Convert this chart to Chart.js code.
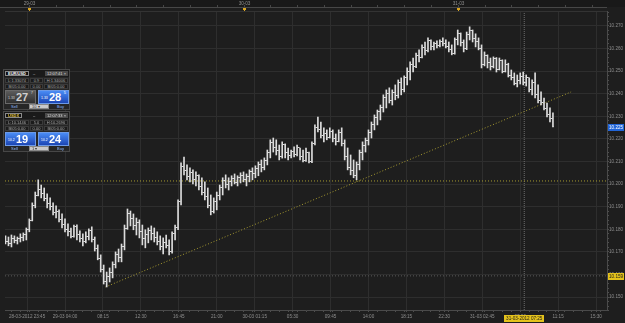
<!DOCTYPE html>
<html>
<head>
<meta charset="utf-8">
<script src="https://cdn.jsdelivr.net/npm/chart.js@4.4.1/dist/chart.umd.min.js"></script>
<style>
html, body { margin: 0; padding: 0; background: #1e1e1e; overflow: hidden; }
#wrap { position: relative; width: 625px; height: 323px; }
canvas { display: block; }
.panel { position: absolute; left: 3px; width: 67px; height: 41px; box-sizing: border-box;
  background: #262626; border: 1px solid #474747; font-family: "Liberation Sans", sans-serif;
  font-size: 4px; line-height: 5px; color: #a9a9a9; }
.hdr { position: absolute; left: 0; top: 0; width: 65px; height: 7px; background: #1a1a1a; }
.sym { position: absolute; left: 1px; top: 1px; height: 5px; padding: 0 2px; border: 1px solid #8a8a8a;
  box-sizing: border-box; line-height: 4px; color: #fff; font-weight: bold; background: #101010; }
.dash { position: absolute; left: 29px; top: 1px; color: #ddd; }
.clk { position: absolute; right: 1px; top: 1px; height: 5px; padding: 0 2px; background: #4a4a4a; color: #ddd; }
.row { position: absolute; left: 1px; width: 63px; height: 5px; }
.row span { position: absolute; top: 0; height: 5px; box-sizing: border-box; background: #1b1b1b;
  border: 1px solid #3a3a3a; line-height: 3px; text-align: center; }
.c1 { left: 0; width: 24px; } .c2 { left: 25px; width: 13px; } .c3 { left: 39px; width: 24px; }
.btn { position: absolute; top: 20px; width: 31px; height: 14px; box-sizing: border-box; color: #fff;
  background: linear-gradient(#4a8cf5, #1c46b5); border: 1px solid #6d9ae6; }
.btn.grey { background: linear-gradient(#5c5c5c, #303030); border-color: #6a6a6a; color: #d0d0d0; }
.btn i { position: absolute; left: 2px; top: 5px; font-style: normal; font-size: 3.5px; }
.btn b { position: absolute; left: 10px; top: 1px; font-size: 11px; line-height: 11px; }
.btn sup { position: absolute; right: 2px; top: 0; font-size: 4px; line-height: 4px; }
.lab { position: absolute; top: 34px; color: #8fb8ff; }
.dd { position: absolute; left: 25px; top: 34px; width: 20px; height: 5px; box-sizing: border-box;
  background: #c9c9c9; color: #333; border: 1px solid #888; line-height: 3px; padding-left: 2px; }
</style>
</head>
<body>
<div id="wrap">
<canvas id="chart" width="625" height="323"></canvas>

<div class="panel" style="top:69px">
  <div class="hdr"><span class="sym">EUR/USD</span><span class="dash">–</span><span class="clk">12:07:41 ×</span></div>
  <div class="row" style="top:8px"><span class="c1">L:1.33074</span><span class="c2">0.9</span><span class="c3">H:1.34006</span></div>
  <div class="row" style="top:14px"><span class="c1">B/05:0.00</span><span class="c2">0.00</span><span class="c3">B/05:0.00</span></div>
  <div class="btn grey" style="left:1px"><i>1.33</i><b>27</b><sup>7</sup></div>
  <div class="btn" style="left:34px"><i>1.33</i><b>28</b><sup>5</sup></div>
  <div class="lab" style="left:7px">Sell</div>
  <div class="dd">10 ▾</div>
  <div class="lab" style="left:53px">Buy</div>
</div>

<div class="panel" style="top:111px">
  <div class="hdr"><span class="sym" style="color:#e8c33a">USDX</span><span class="dash">–</span><span class="clk">12:07:33 ×</span></div>
  <div class="row" style="top:8px"><span class="c1">L:10.1446</span><span class="c2">5.0</span><span class="c3">H:10.2696</span></div>
  <div class="row" style="top:14px"><span class="c1">B/05:0.00</span><span class="c2">0.00</span><span class="c3">B/05:0.00</span></div>
  <div class="btn" style="left:1px"><i>10.2</i><b>19</b></div>
  <div class="btn" style="left:34px"><i>10.2</i><b>24</b></div>
  <div class="lab" style="left:7px">Sell</div>
  <div class="dd">1 ▾</div>
  <div class="lab" style="left:53px">Buy</div>
</div>
</div>

<script>
// 20-minute bars starting 28-03-2012 21:00 (x axis is in hours from that time)
const barMinutes = 20;

const opens = [
    10.1762, 10.1753, 10.1744, 10.1738, 10.1760, 10.1749, 10.1758, 10.1765, 10.1778, 10.1800,
    10.1840, 10.1905, 10.1950, 10.1975, 10.1960, 10.1935, 10.1915, 10.1900, 10.1875, 10.1880,
    10.1845, 10.1820, 10.1800, 10.1790, 10.1770, 10.1812, 10.1775, 10.1760, 10.1748, 10.1770,
    10.1795, 10.1755, 10.1715, 10.1672, 10.1620, 10.1570, 10.1590, 10.1610, 10.1645, 10.1690,
    10.1675, 10.1725, 10.1805, 10.1870, 10.1850, 10.1815, 10.1830, 10.1790, 10.1760, 10.1775,
    10.1795, 10.1780, 10.1765, 10.1748, 10.1722, 10.1740, 10.1730, 10.1700, 10.1780, 10.1810,
    10.1925, 10.2080, 10.2060, 10.2035, 10.2050, 10.2020, 10.2040, 10.1990, 10.1965, 10.1945,
    10.1905, 10.1880, 10.1925, 10.1950, 10.1985, 10.2015, 10.2000, 10.2010, 10.2025, 10.2005,
    10.2030, 10.2040, 10.2020, 10.2035, 10.2055, 10.2045, 10.2070, 10.2085, 10.2075, 10.2105,
    10.2140, 10.2185, 10.2160, 10.2150, 10.2120, 10.2175, 10.2140, 10.2125, 10.2145, 10.2130,
    10.2160, 10.2120, 10.2105, 10.2140, 10.2100, 10.2180, 10.2250, 10.2240, 10.2215, 10.2225,
    10.2205, 10.2235, 10.2200, 10.2190, 10.2230, 10.2180, 10.2120, 10.2075, 10.2060, 10.2040,
    10.2085, 10.2140, 10.2170, 10.2195, 10.2230, 10.2265, 10.2295, 10.2320, 10.2340, 10.2385,
    10.2400, 10.2370, 10.2405, 10.2390, 10.2450, 10.2420, 10.2470, 10.2500, 10.2530, 10.2520,
    10.2570, 10.2560, 10.2605, 10.2590, 10.2635, 10.2610, 10.2620, 10.2612, 10.2630, 10.2620,
    10.2610, 10.2595, 10.2580, 10.2640, 10.2665, 10.2625, 10.2600, 10.2660, 10.2680, 10.2645,
    10.2630, 10.2600, 10.2530, 10.2570, 10.2540, 10.2520, 10.2555, 10.2505, 10.2545, 10.2500,
    10.2530, 10.2480, 10.2470, 10.2445, 10.2460, 10.2475, 10.2450, 10.2470, 10.2420, 10.2450,
    10.2395, 10.2370, 10.2360, 10.2335, 10.2310, 10.2290
];
const highs = [
    10.1780, 10.1771, 10.1766, 10.1775, 10.1771, 10.1766, 10.1780, 10.1784, 10.1806, 10.1846,
    10.1917, 10.1965, 10.2019, 10.1996, 10.1983, 10.1957, 10.1939, 10.1917, 10.1904, 10.1886,
    10.1868, 10.1846, 10.1824, 10.1806, 10.1819, 10.1820, 10.1793, 10.1780, 10.1789, 10.1802,
    10.1811, 10.1766, 10.1731, 10.1687, 10.1642, 10.1611, 10.1629, 10.1656, 10.1700, 10.1713,
    10.1735, 10.1819, 10.1890, 10.1881, 10.1868, 10.1850, 10.1842, 10.1819, 10.1798, 10.1806,
    10.1815, 10.1806, 10.1789, 10.1771, 10.1762, 10.1775, 10.1753, 10.1789, 10.1819, 10.1930,
    10.2094, 10.2120, 10.2085, 10.2072, 10.2063, 10.2054, 10.2041, 10.2028, 10.2010, 10.1983,
    10.1952, 10.1939, 10.1965, 10.1996, 10.2028, 10.2041, 10.2028, 10.2037, 10.2045, 10.2037,
    10.2050, 10.2054, 10.2045, 10.2063, 10.2072, 10.2081, 10.2098, 10.2107, 10.2116, 10.2151,
    10.2196, 10.2204, 10.2196, 10.2173, 10.2187, 10.2178, 10.2160, 10.2151, 10.2165, 10.2173,
    10.2160, 10.2151, 10.2160, 10.2142, 10.2187, 10.2262, 10.2297, 10.2275, 10.2249, 10.2240,
    10.2249, 10.2240, 10.2222, 10.2240, 10.2249, 10.2196, 10.2160, 10.2129, 10.2107, 10.2098,
    10.2151, 10.2187, 10.2204, 10.2240, 10.2275, 10.2306, 10.2328, 10.2350, 10.2395, 10.2417,
    10.2426, 10.2417, 10.2439, 10.2461, 10.2470, 10.2479, 10.2514, 10.2541, 10.2558, 10.2580,
    10.2594, 10.2616, 10.2629, 10.2647, 10.2638, 10.2629, 10.2634, 10.2638, 10.2647, 10.2638,
    10.2629, 10.2616, 10.2647, 10.2682, 10.2669, 10.2638, 10.2673, 10.2696, 10.2682, 10.2665,
    10.2647, 10.2616, 10.2585, 10.2572, 10.2558, 10.2563, 10.2560, 10.2558, 10.2550, 10.2550,
    10.2535, 10.2505, 10.2492, 10.2483, 10.2492, 10.2496, 10.2483, 10.2470, 10.2461, 10.2492,
    10.2439, 10.2408, 10.2381, 10.2359, 10.2337, 10.2315
];
const lows = [
    10.1744, 10.1735, 10.1727, 10.1722, 10.1740, 10.1735, 10.1744, 10.1749, 10.1753, 10.1789,
    10.1837, 10.1895, 10.1948, 10.1939, 10.1926, 10.1895, 10.1886, 10.1864, 10.1850, 10.1833,
    10.1806, 10.1789, 10.1771, 10.1762, 10.1765, 10.1753, 10.1744, 10.1727, 10.1740, 10.1753,
    10.1744, 10.1704, 10.1665, 10.1611, 10.1558, 10.1545, 10.1567, 10.1585, 10.1629, 10.1656,
    10.1656, 10.1709, 10.1800, 10.1815, 10.1798, 10.1775, 10.1762, 10.1731, 10.1718, 10.1740,
    10.1753, 10.1744, 10.1731, 10.1709, 10.1691, 10.1718, 10.1687, 10.1695, 10.1753, 10.1798,
    10.1908, 10.2041, 10.2019, 10.2010, 10.2001, 10.1992, 10.1974, 10.1952, 10.1930, 10.1895,
    10.1864, 10.1872, 10.1886, 10.1930, 10.1952, 10.1983, 10.1974, 10.1992, 10.2001, 10.1992,
    10.2005, 10.2010, 10.1992, 10.2010, 10.2019, 10.2028, 10.2037, 10.2054, 10.2063, 10.2085,
    10.2116, 10.2142, 10.2129, 10.2107, 10.2115, 10.2116, 10.2107, 10.2116, 10.2120, 10.2125,
    10.2107, 10.2098, 10.2100, 10.2094, 10.2095, 10.2173, 10.2231, 10.2204, 10.2187, 10.2196,
    10.2204, 10.2187, 10.2173, 10.2187, 10.2169, 10.2107, 10.2063, 10.2041, 10.2028, 10.2019,
    10.2063, 10.2107, 10.2142, 10.2173, 10.2204, 10.2240, 10.2262, 10.2284, 10.2319, 10.2337,
    10.2359, 10.2350, 10.2373, 10.2381, 10.2395, 10.2408, 10.2439, 10.2461, 10.2496, 10.2515,
    10.2541, 10.2558, 10.2572, 10.2585, 10.2594, 10.2594, 10.2603, 10.2607, 10.2611, 10.2603,
    10.2585, 10.2572, 10.2575, 10.2616, 10.2611, 10.2585, 10.2595, 10.2638, 10.2629, 10.2607,
    10.2594, 10.2514, 10.2523, 10.2514, 10.2505, 10.2514, 10.2496, 10.2505, 10.2492, 10.2496,
    10.2474, 10.2461, 10.2439, 10.2430, 10.2443, 10.2439, 10.2434, 10.2408, 10.2395, 10.2381,
    10.2359, 10.2350, 10.2328, 10.2297, 10.2275, 10.2253
];
const closes = [
    10.1753, 10.1744, 10.1738, 10.1760, 10.1749, 10.1758, 10.1765, 10.1778, 10.1800, 10.1840,
    10.1905, 10.1950, 10.1975, 10.1960, 10.1935, 10.1915, 10.1900, 10.1875, 10.1880, 10.1845,
    10.1820, 10.1800, 10.1790, 10.1770, 10.1812, 10.1775, 10.1760, 10.1748, 10.1770, 10.1795,
    10.1755, 10.1715, 10.1672, 10.1620, 10.1570, 10.1590, 10.1610, 10.1645, 10.1690, 10.1675,
    10.1725, 10.1805, 10.1870, 10.1850, 10.1815, 10.1830, 10.1790, 10.1760, 10.1775, 10.1795,
    10.1780, 10.1765, 10.1748, 10.1722, 10.1740, 10.1730, 10.1700, 10.1780, 10.1810, 10.1925,
    10.2080, 10.2060, 10.2035, 10.2050, 10.2020, 10.2040, 10.1990, 10.1965, 10.1945, 10.1905,
    10.1880, 10.1925, 10.1950, 10.1985, 10.2015, 10.2000, 10.2010, 10.2025, 10.2005, 10.2030,
    10.2040, 10.2020, 10.2035, 10.2055, 10.2045, 10.2070, 10.2085, 10.2075, 10.2105, 10.2140,
    10.2185, 10.2160, 10.2150, 10.2120, 10.2175, 10.2140, 10.2125, 10.2145, 10.2130, 10.2160,
    10.2120, 10.2105, 10.2140, 10.2100, 10.2180, 10.2250, 10.2240, 10.2215, 10.2225, 10.2205,
    10.2235, 10.2200, 10.2190, 10.2230, 10.2180, 10.2120, 10.2075, 10.2060, 10.2040, 10.2085,
    10.2140, 10.2170, 10.2195, 10.2230, 10.2265, 10.2295, 10.2320, 10.2340, 10.2385, 10.2400,
    10.2370, 10.2405, 10.2390, 10.2450, 10.2420, 10.2470, 10.2500, 10.2530, 10.2520, 10.2570,
    10.2560, 10.2605, 10.2590, 10.2635, 10.2610, 10.2620, 10.2612, 10.2630, 10.2620, 10.2610,
    10.2595, 10.2580, 10.2640, 10.2665, 10.2625, 10.2600, 10.2660, 10.2680, 10.2645, 10.2630,
    10.2600, 10.2530, 10.2570, 10.2540, 10.2520, 10.2555, 10.2505, 10.2545, 10.2500, 10.2530,
    10.2480, 10.2470, 10.2445, 10.2460, 10.2475, 10.2450, 10.2470, 10.2420, 10.2450, 10.2395,
    10.2370, 10.2360, 10.2335, 10.2310, 10.2290, 10.2254
];

// tick labels
const xTickLabels = ["28-03-2012 23:45", "29-03 04:00", "08:15", "12:30", "16:45", "21:00",
    "30-03 01:15", "05:30", "09:45", "14:00", "18:15", "22:30", "31-03 02:45", "07:00", "11:15", "15:30"];
const yTickValues = [10.150, 10.160, 10.170, 10.180, 10.190, 10.200, 10.210, 10.220,
    10.230, 10.240, 10.250, 10.260, 10.270];
const dayLabels = ["29-03", "30-03", "31-03"];
const dayHours = [3, 27, 51];

// drawn objects
const levelLine = 10.2014;          // horizontal dotted yellow line
const markLevel = 10.1594;          // grey dotted line with the yellow price tag
const trendHours = [11.55, 63.7];
const trendValues = [10.1545, 10.2408];
const cursorHour = 58.45;
const cursorLabel = "31-03-2012 07:25";

// 9 px per hour over a 607 px plot, so 20-minute bars land on whole pixels
const xMin = 2.5 / 9, xMax = xMin + 607 / 9;
const yMin = 10.1443, yMax = 10.2766;

const times = opens.map((_, i) => i * barMinutes / 60);
const lastClose = closes[closes.length - 1];
const isMajorY = v => yTickValues.some(t => Math.abs(t - v) < 1e-7);
const FONT = { family: "Liberation Sans", size: 4.6 };

function tickImage(left) {
    const c = document.createElement("canvas");
    c.width = 3; c.height = 1;
    const g = c.getContext("2d");
    g.fillStyle = "#dcdcdc";
    g.fillRect(left ? 0 : 2, 0, 1, 1);
    return c;
}

const overlay = {
    id: "overlay",
    beforeDraw(chart) {
        const { ctx, width, height } = chart;
        ctx.save();
        ctx.fillStyle = "#1e1e1e";
        ctx.fillRect(0, 0, width, height);
        ctx.fillStyle = "#191919";
        ctx.fillRect(0, 0, width, 7);
        ctx.restore();
    },
    afterDraw(chart) {
        const { ctx, chartArea: a, scales } = chart;
        const x = scales.x, y = scales.y;
        ctx.save();
        // top strip line + ticks
        ctx.fillStyle = "#474747";
        ctx.fillRect(0, 7, a.right, 1);
        for (let h = 3; h <= xMax; h += 3) {
            const px = Math.round(x.getPixelForValue(h));
            ctx.fillRect(px, 5, 1, 2);
        }
        ctx.fillStyle = "#333";
        ctx.fillRect(a.left, a.top, a.right - a.left, 1);
        ctx.font = "4.6px 'Liberation Sans'";
        ctx.textBaseline = "middle";
        ctx.textAlign = "center";
        // day labels and markers
        dayHours.forEach((h, k) => {
            const px = Math.round(x.getPixelForValue(h));
            ctx.fillStyle = "#8e8e8e";
            ctx.fillText(dayLabels[k], px + 0.5, 3.5);
            ctx.fillStyle = "#d9a521";
            ctx.fillRect(px - 1, 8, 3, 2);
            ctx.fillRect(px, 10, 1, 1);
        });
        // bottom cursor label
        const cx = x.getPixelForValue(cursorHour);
        const tw = ctx.measureText(cursorLabel).width + 4;
        ctx.fillStyle = "#e4c21c";
        ctx.fillRect(Math.round(cx - tw / 2), 315, Math.round(tw), 7);
        ctx.fillStyle = "#1a1a1a";
        ctx.fillText(cursorLabel, cx, 318.6);
        // right price tags
        ctx.textAlign = "left";
        const tag = (v, bg, fg) => {
            const py = Math.round(y.getPixelForValue(v));
            ctx.fillStyle = bg;
            ctx.fillRect(608, py - 3, 16, 7);
            ctx.fillStyle = fg;
            ctx.fillText(v.toFixed(3), 609, py + 0.6);
        };
        tag(lastClose, "#2165d8", "#ffffff");
        tag(markLevel, "#e4c21c", "#1a1a1a");
        ctx.restore();
    }
};

const lineStyle = { type: "line", pointRadius: 0, borderWidth: 1, fill: false, order: 5 };

new Chart(document.getElementById("chart"), {
    type: "bar",
    data: {
        datasets: [
            {
                ...lineStyle,
                data: [{ x: xMin, y: levelLine }, { x: xMax, y: levelLine }],
                borderColor: "#a69a30",
                borderDash: [1, 2],
            },
            {
                ...lineStyle,
                data: [{ x: xMin, y: markLevel }, { x: xMax, y: markLevel }],
                borderColor: "#5c5c5c",
                borderDash: [1, 2],
            },
            {
                ...lineStyle,
                data: trendHours.map((h, i) => ({ x: h, y: trendValues[i] })),
                borderColor: "#a69a30",
                borderDash: [1, 2],
            },
            {
                ...lineStyle,
                data: [{ x: cursorHour, y: yMin }, { x: cursorHour, y: yMax }],
                borderColor: "#6e6e6e",
                borderDash: [1, 1],
            },
            {
                type: "bar",
                data: times.map((t, i) => ({ x: t, y: [lows[i], highs[i]] })),
                backgroundColor: "#dcdcdc",
                barThickness: 1,
                borderWidth: 0,
                order: 2,
            },
            {
                type: "scatter",
                data: times.map((t, i) => ({ x: t, y: opens[i] })),
                pointStyle: tickImage(true),
                pointRadius: 1,
                order: 1,
            },
            {
                type: "scatter",
                data: times.map((t, i) => ({ x: t, y: closes[i] })),
                pointStyle: tickImage(false),
                pointRadius: 1,
                order: 1,
            },
        ],
    },
    options: {
        responsive: false,
        animation: false,
        events: [],
        layout: { padding: { top: 11, left: 0, right: 0, bottom: 0 } },
        plugins: { legend: { display: false }, tooltip: { enabled: false } },
        scales: {
            x: {
                type: "linear",
                position: "bottom",
                min: xMin,
                max: xMax,
                offset: false,
                afterBuildTicks(s) {
                    const ticks = [];
                    for (let h = 1; h <= xMax; h += 1) ticks.push({ value: h, lbl: "" });
                    xTickLabels.forEach((l, k) => ticks.push({ value: 2.75 + 4.25 * k, lbl: l, big: true }));
                    ticks.sort((p, q) => p.value - q.value);
                    s.ticks = ticks;
                },
                afterFit(s) { s.height = 13; },
                grid: {
                    offset: false,
                    color: c => (c.tick && c.tick.big ? "#2e2e2e" : "rgba(0,0,0,0)"),
                    tickColor: "#4e4e4e",
                    tickLength: 2,
                },
                border: { color: "#4a4a4a" },
                ticks: {
                    autoSkip: false,
                    maxRotation: 0,
                    padding: 2,
                    color: "#8e8e8e",
                    font: FONT,
                    callback: (v, i, ticks) => ticks[i].lbl,
                },
            },
            y: {
                type: "linear",
                position: "right",
                min: yMin,
                max: yMax,
                afterBuildTicks(s) {
                    const ticks = [];
                    for (let k = 0; k < 70; k++) {
                        const v = Math.round((10.144 + k * 0.002) * 1000) / 1000;
                        if (v > yMax) break;
                        ticks.push({ value: v });
                    }
                    s.ticks = ticks;
                },
                afterFit(s) { s.width = 18; },
                grid: {
                    color: c => (c.tick && isMajorY(c.tick.value) ? "#2e2e2e" : "rgba(0,0,0,0)"),
                    tickColor: "#4e4e4e",
                    tickLength: 2,
                },
                border: { color: "#4a4a4a" },
                ticks: {
                    autoSkip: false,
                    padding: 0,
                    color: "#8e8e8e",
                    font: FONT,
                    callback: v => (isMajorY(v) ? v.toFixed(3) : ""),
                },
            },
        },
    },
    plugins: [overlay],
});
</script>
</body>
</html>
